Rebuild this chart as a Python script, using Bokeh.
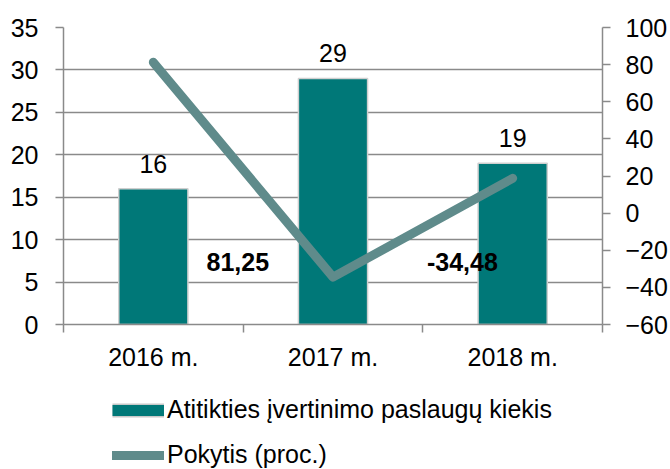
from bokeh.plotting import figure
from bokeh.layouts import column
from bokeh.models import (Range1d, LinearAxis, FixedTicker, LabelSet, ColumnDataSource,
                          Legend, LegendItem)
from bokeh.core.properties import value
from bokeh.embed import file_html
from bokeh.resources import INLINE

# ---- data ----
years = ["2016 m.", "2017 m.", "2018 m."]
kiekis = [16, 29, 19]
pokytis = [81.25, -34.48, 18.75]
change_labels = ["81,25", "-34,48"]
left_ticks = [0, 5, 10, 15, 20, 25, 30, 35]
right_ticks = [-60, -40, -20, 0, 20, 40, 60, 80, 100]
legend_labels = ["Atitikties įvertinimo paslaugų kiekis", "Pokytis (proc.)"]

FONT = "Liberation Sans"
BAR = "#007878"
LINE = "#5f8b8b"
GRID = "#8a8a8a"
NAN = float("nan")

idx = list(range(len(years)))

p = figure(frame_width=539, frame_height=297, output_backend="svg", toolbar_location=None,
           x_range=Range1d(-0.5, len(years) - 0.5), y_range=Range1d(0, 35),
           min_border_left=63, min_border_right=68, min_border_top=27,
           min_border_bottom=56, x_axis_location=None, y_axis_location=None)
p.outline_line_color = None
p.background_fill_color = "white"
p.border_fill_color = "white"
p.extra_y_ranges = {"r": Range1d(-60, 100)}

# axes
xa = LinearAxis(ticker=FixedTicker(ticks=idx, minor_ticks=[i - 0.5 for i in idx] + [idx[-1] + 0.5]))
xa.major_label_overrides = {i: y for i, y in zip(idx, years)}
xa.major_tick_out = 0
xa.major_tick_in = 0
xa.minor_tick_out = 8
xa.minor_tick_in = 0
xa.minor_tick_line_color = GRID
xa.minor_tick_line_width = 1.5
xa.axis_line_color = GRID
xa.axis_line_width = 1.5
xa.major_label_standoff = 10
xa.major_label_text_font = FONT
xa.major_label_text_font_size = "25px"
xa.major_label_text_color = "black"
p.add_layout(xa, "below")

ya = LinearAxis(ticker=FixedTicker(ticks=left_ticks))
ya.major_tick_out = 8
ya.major_tick_in = 0
ya.minor_tick_line_color = None
ya.major_tick_line_color = GRID
ya.major_tick_line_width = 1.5
ya.axis_line_color = GRID
ya.axis_line_width = 1.5
ya.major_label_standoff = 17
ya.major_label_text_font = FONT
ya.major_label_text_font_size = "25px"
ya.major_label_text_color = "black"
p.add_layout(ya, "left")

yr = LinearAxis(y_range_name="r", ticker=FixedTicker(ticks=right_ticks))
yr.major_tick_out = 8
yr.major_tick_in = 0
yr.minor_tick_line_color = None
yr.major_tick_line_color = GRID
yr.major_tick_line_width = 1.5
yr.axis_line_color = GRID
yr.axis_line_width = 1.5
yr.major_label_standoff = 15
yr.major_label_text_font = FONT
yr.major_label_text_font_size = "25px"
yr.major_label_text_color = "black"
p.add_layout(yr, "right")

p.xgrid.visible = False
p.ygrid.ticker = FixedTicker(ticks=left_ticks)
p.ygrid.grid_line_color = GRID
p.ygrid.grid_line_width = 1.3

# bars
src = ColumnDataSource(dict(x=idx, y=kiekis, t=[str(v) for v in kiekis]))
p.vbar(x="x", top="y", bottom=0, width=0.385, source=src, fill_color=BAR,
       line_color="#cfcfcf", line_width=1.5)
p.add_layout(LabelSet(x="x", y="y", text="t", source=src, y_offset=25,
                      text_align="center", text_baseline="middle",
                      text_font=value(FONT), text_font_size="25px", text_color="black"))

# line
lsrc = ColumnDataSource(dict(x=idx, y=pokytis))
p.line(x="x", y="y", source=lsrc, y_range_name="r", line_color=LINE,
       line_width=9, line_cap="round", line_join="round")

# change labels
csrc = ColumnDataSource(dict(x=[0.47, 1.72], y=[7.4, 7.4], t=change_labels))
p.add_layout(LabelSet(x="x", y="y", text="t", source=csrc, text_align="center",
                      text_baseline="middle", text_font=value(FONT), text_font_size="25px",
                      text_font_style="bold", text_color="black"))

# legend strip below the chart
q = figure(frame_width=539, frame_height=89, output_backend="svg", toolbar_location=None,
           x_range=Range1d(0, 1), y_range=Range1d(0, 1),
           min_border_left=63, min_border_right=68, min_border_top=0, min_border_bottom=0,
           x_axis_location=None, y_axis_location=None)
q.outline_line_color = None
q.border_fill_color = "white"
q.xgrid.visible = False
q.ygrid.visible = False
leg_border = q.line(x=[NAN], y=[NAN], line_color="#c8c8c8", line_width=14, line_cap="butt")
leg_fill = q.line(x=[NAN], y=[NAN], line_color=BAR, line_width=11, line_cap="butt")
leg_line = q.line(x=[NAN], y=[NAN], line_color=LINE, line_width=9, line_cap="round")
legend = Legend(items=[
    LegendItem(label=legend_labels[0], renderers=[leg_border, leg_fill]),
    LegendItem(label=legend_labels[1], renderers=[leg_line]),
], location=(49, 0), orientation="vertical")
legend.label_text_font = FONT
legend.label_text_font_size = "25px"
legend.label_text_color = "black"
legend.glyph_width = 52
legend.glyph_height = 28
legend.label_height = 28
legend.spacing = 16
legend.padding = 0
legend.margin = 0
legend.label_standoff = 3
legend.border_line_color = None
legend.background_fill_alpha = 0
q.add_layout(legend, "center")

layout = column(p, q, spacing=0)
open("out.html", "w").write(file_html(layout, INLINE))
